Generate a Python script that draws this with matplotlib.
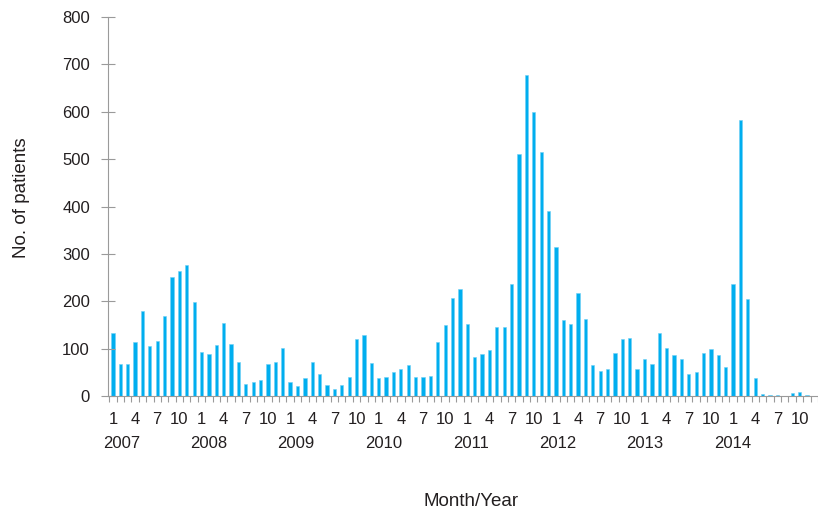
import numpy as np
import matplotlib
matplotlib.use('Agg')
import matplotlib.pyplot as plt

## monthly patient counts, Jan 2007 - Nov 2014
y2007 = [133, 67, 67, 114, 179, 106, 116, 169, 251, 264, 277, 198]
y2008 = [93, 89, 108, 154, 110, 72, 25, 30, 34, 68, 72, 101]
y2009 = [30, 21, 38, 72, 46, 23, 15, 23, 40, 120, 129, 70]
y2010 = [38, 40, 51, 57, 66, 40, 40, 42, 115, 150, 207, 225]
y2011 = [152, 83, 88, 97, 145, 145, 236, 511, 677, 599, 515, 390]
y2012 = [314, 161, 152, 217, 162, 65, 53, 57, 91, 120, 122, 57]
y2013 = [78, 67, 133, 101, 86, 79, 47, 50, 91, 99, 86, 61]
y2014 = [237, 582, 205, 38, 4, 3, 2, 1, 6, 8, 2]
years = ['2007', '2008', '2009', '2010', '2011', '2012', '2013', '2014']
month_labels = ['1', '4', '7', '10']

counts = y2007 + y2008 + y2009 + y2010 + y2011 + y2012 + y2013 + y2014
x = np.arange(len(counts))

plt.rcParams['font.family'] = ['Liberation Sans', 'DejaVu Sans']
txt = '#231F20'
grey = '#9A9A9A'

fig = plt.figure(figsize=(8.18, 5.15), dpi=100)
ax = fig.add_axes([0.132, 0.231, 0.868, 0.736])

ax.bar(x, counts, width=0.44, color='#00AEEF', edgecolor='#6FD0F5', linewidth=0.4)

## axis limits
ax.set_xlim(-0.67, 94.3)
ax.set_ylim(0, 800)
ax.set_yticks(np.arange(0, 801, 100))

## spines
for s in ['top', 'right']:
    ax.spines[s].set_visible(False)
ax.spines['left'].set_color(grey)
ax.spines['bottom'].set_color(grey)

ax.tick_params(axis='y', direction='inout', length=9.5, width=0.8, color=grey,
               pad=8.2, labelsize=12, labelcolor=txt)

## month ticks: labels under bars, small marks at month boundaries
pos = [i for i in x if i % 3 == 0]
ax.set_xticks(pos)
ax.set_xticklabels([month_labels[(i % 12) // 3] for i in pos])
ax.tick_params(axis='x', which='major', length=0, pad=11.5, labelsize=12, labelcolor=txt)
ax.set_xticks(np.arange(-0.5, len(counts) + 1, 1), minor=True)
ax.tick_params(axis='x', which='minor', direction='out', length=4.5, width=0.8, color=grey)

## year labels
year_pos = np.linspace(1.2, 83.9, len(years))
for yp, yr in zip(year_pos, years):
    ax.text(yp, -0.124, yr, transform=ax.get_xaxis_transform(), ha='center', va='center',
            fontsize=12, color=txt)

fig.text(471 / 818, 1 - 502 / 515, 'Month/Year', ha='center', va='center', fontsize=13.5, color=txt)
fig.text(22 / 818, 1 - 198 / 515, 'No. of patients', ha='center', va='center', rotation=90,
         fontsize=13.5, color=txt)

fig.savefig('out.png', dpi=100)
